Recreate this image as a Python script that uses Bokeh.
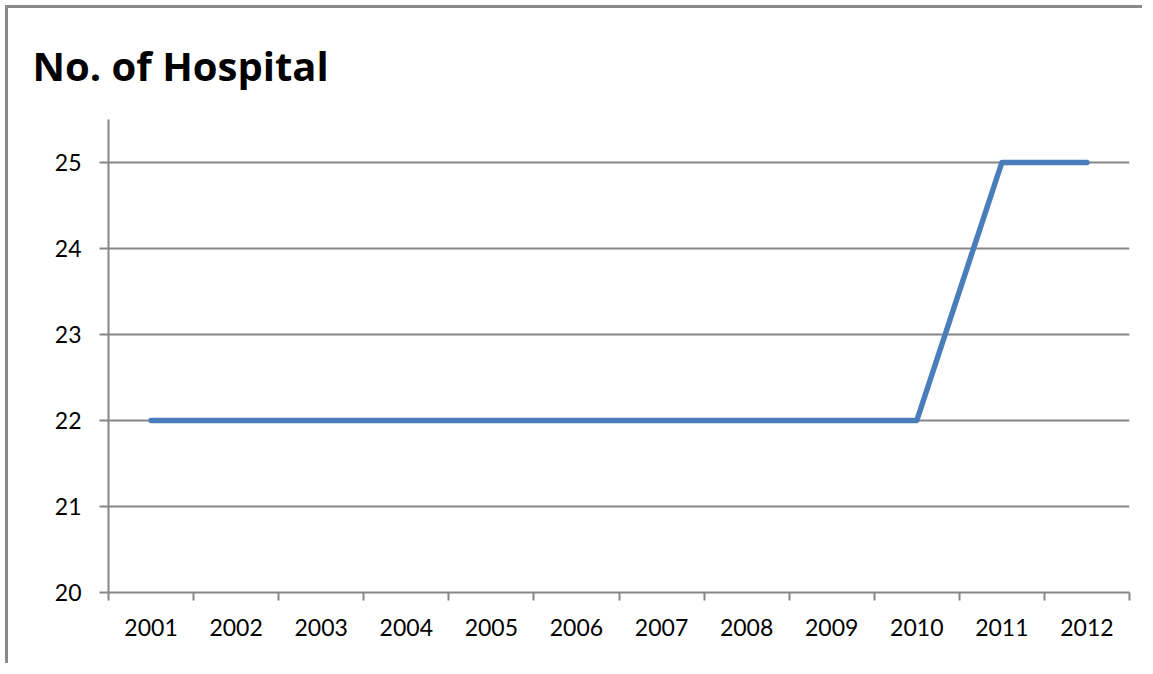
from bokeh.plotting import figure
from bokeh.models import FixedTicker
from bokeh.embed import file_html
from bokeh.resources import INLINE

title = "No. of Hospital"
years = [2001, 2002, 2003, 2004, 2005, 2006, 2007, 2008, 2009, 2010, 2011, 2012]
hospitals = [22, 22, 22, 22, 22, 22, 22, 22, 22, 22, 25, 25]
y_ticks = [20, 21, 22, 23, 24, 25]

GRAY = "#868686"
FONT = "Lato"

p = figure(width=1137, height=658, output_backend="svg", toolbar_location=None,
           x_range=(years[0] - 0.5, years[-1] + 0.5), y_range=(20, 25.5),
           min_border_left=100, min_border_right=16, min_border_top=111,
           min_border_bottom=74, title=title)
p.outline_line_color = None
p.background_fill_color = "white"
p.border_fill_color = "white"
p.styles = {"border-left": "3px solid #8a8a8a", "border-top": "3px solid #8a8a8a",
            "margin-left": "5px", "margin-top": "5px"}

p.title.text_font = "Open Sans"
p.title.text_font_style = "bold"
p.title.text_font_size = "40px"
p.title.text_color = "black"
p.title.align = "left"
p.title.vertical_align = "top"
p.title.offset = -76
p.title.standoff = 50

p.line(years, hospitals, line_color="#4A7EBB", line_width=5.5,
       line_cap="round", line_join="round")

# x axis: labels at centres, ticks at boundaries
p.xaxis.ticker = FixedTicker(ticks=years,
                             minor_ticks=[y - 0.5 for y in years] + [years[-1] + 0.5])
p.xaxis.major_tick_out = 0
p.xaxis.major_tick_in = 0
p.xaxis.minor_tick_out = 8
p.xaxis.minor_tick_in = 0
p.xaxis.minor_tick_line_color = GRAY
p.xaxis.minor_tick_line_width = 2
p.xaxis.major_label_standoff = 18
p.xaxis.formatter.use_scientific = False

p.yaxis.ticker = FixedTicker(ticks=y_ticks, minor_ticks=[])
p.yaxis.major_tick_out = 9
p.yaxis.major_tick_in = 0
p.yaxis.major_tick_line_color = GRAY
p.yaxis.major_tick_line_width = 2
p.yaxis.major_label_standoff = 18

for ax in (p.xaxis, p.yaxis):
    ax.axis_line_color = GRAY
    ax.axis_line_width = 2
    ax.major_label_text_font = FONT
    ax.major_label_text_font_size = "23px"
    ax.major_label_text_color = "black"

p.xgrid.grid_line_color = None
p.ygrid.grid_line_color = GRAY
p.ygrid.grid_line_width = 2
p.ygrid.ticker = FixedTicker(ticks=y_ticks)

open("out.html", "w").write(file_html(p, INLINE))
